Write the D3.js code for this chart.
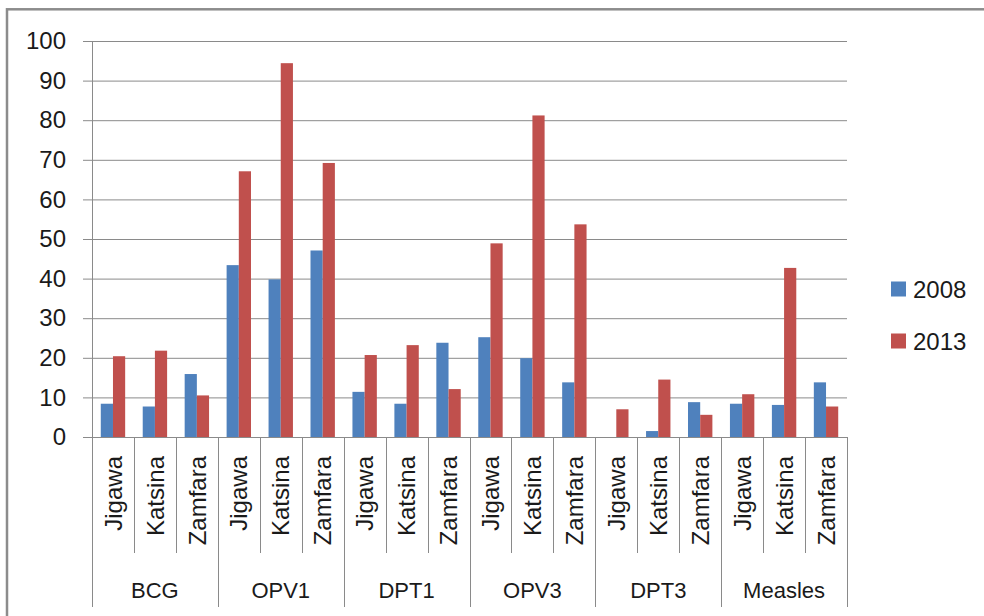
<!DOCTYPE html>
<html>
<head>
<meta charset="utf-8">
<script src="https://cdn.jsdelivr.net/npm/d3@7"></script>
<style>
  body { margin: 0; background: #fff; }
  text { font-family: "Liberation Sans", Arial, sans-serif; fill: #1a1a1a; }
</style>
</head>
<body>
<script>
// vaccine groups and districts (two-level category axis)
var vaccines = ['BCG', 'OPV1', 'DPT1', 'OPV3', 'DPT3', 'Measles'];
var districts = ['Jigawa', 'Katsina', 'Zamfara'];
var years = ['2008', '2013'];

// values, in order vaccine x district
var values2008 = [8.4, 7.7, 15.9,  43.4, 39.8, 47.1,  11.4, 8.4, 23.8,  25.2, 19.9, 13.8,  0, 1.5, 8.8,  8.4, 8.1, 13.8];
var values2013 = [20.4, 21.8, 10.5,  67.1, 94.4, 69.2,  20.7, 23.2, 12.1,  48.9, 81.2, 53.7,  7.0, 14.5, 5.6,  10.8, 42.7, 7.7];

var yTicks = [0, 10, 20, 30, 40, 50, 60, 70, 80, 90, 100];
var colors = { '2008': '#4f81bd', '2013': '#c0504d' };

var width = 984, height = 616;
// plot area edges (note: "top" is taken by window.top)
var plotLeft = 92, plotRight = 847, plotTop = 41, plotBottom = 437;

var svg = d3.select('body').append('svg')
  .attr('width', width)
  .attr('height', height);

// outer chart frame (only top and left edges are inside the picture)
svg.append('rect')
  .attr('x', 7).attr('y', 9.3)
  .attr('width', 1200).attr('height', 1200)
  .attr('fill', 'none')
  .attr('stroke', '#8c8c8c')
  .attr('stroke-width', 2.5);

// flatten into 18 categories
var cats = [];
vaccines.forEach(function(v, i) {
  districts.forEach(function(d, j) {
    var k = i * districts.length + j;
    cats.push({ key: v + '|' + d, vaccine: v, district: d, first: j === 0,
      '2008': values2008[k], '2013': values2013[k] });
  });
});

var x = d3.scaleBand()
  .domain(cats.map(function(d) { return d.key; }))
  .range([plotLeft, plotRight])
  .padding(0);

var xSub = d3.scaleBand()
  .domain(years)
  .range([0, x.bandwidth()])
  .paddingInner(0)
  .paddingOuter(0.72);

var y = d3.scaleLinear()
  .domain([0, 100])
  .range([plotBottom, plotTop]);

// gridlines + tick labels in one axis
var yAxis = d3.axisLeft(y)
  .tickValues(yTicks)
  .tickSize(plotRight - 83)
  .tickPadding(17);

var gy = svg.append('g')
  .attr('transform', 'translate(' + plotRight + ',0)')
  .call(yAxis);
gy.select('.domain').remove();
gy.selectAll('line').attr('stroke', '#8a8a8a');
gy.selectAll('text')
  .style('font-size', '24px')
  .attr('fill', '#1a1a1a');

// vertical axis line
svg.append('line')
  .attr('x1', plotLeft + 0.5).attr('x2', plotLeft + 0.5)
  .attr('y1', plotTop).attr('y2', plotBottom)
  .attr('stroke', '#8a8a8a');

// bars
var g = svg.append('g');
g.selectAll('g')
  .data(cats)
  .enter().append('g')
  .attr('transform', function(d) { return 'translate(' + x(d.key) + ',0)'; })
  .selectAll('rect')
  .data(function(d) { return years.map(function(yr) { return { year: yr, value: d[yr] }; }); })
  .enter().append('rect')
  .attr('x', function(d) { return xSub(d.year); })
  .attr('y', function(d) { return y(d.value); })
  .attr('width', xSub.bandwidth())
  .attr('height', function(d) { return y(0) - y(d.value); })
  .attr('fill', function(d) { return colors[d.year]; });

// category separators
var seps = cats.map(function(d) { return { pos: x(d.key), long: d.first }; });
seps.push({ pos: plotRight, long: true });
svg.selectAll('line.sep')
  .data(seps)
  .enter().append('line')
  .attr('class', 'sep')
  .attr('x1', function(d) { return Math.round(d.pos) + 0.5; })
  .attr('x2', function(d) { return Math.round(d.pos) + 0.5; })
  .attr('y1', plotBottom)
  .attr('y2', function(d) { return d.long ? 607 : 553; })
  .attr('stroke', '#8a8a8a');

// x axis line
svg.append('line')
  .attr('x1', plotLeft).attr('x2', plotRight)
  .attr('y1', plotBottom + 0.5).attr('y2', plotBottom + 0.5)
  .attr('stroke', '#8a8a8a');

// district labels (rotated)
svg.selectAll('text.district')
  .data(cats)
  .enter().append('text')
  .attr('class', 'district')
  .attr('transform', function(d) {
    return 'translate(' + (x(d.key) + x.bandwidth() / 2) + ',456) rotate(-90)';
  })
  .attr('text-anchor', 'end')
  .attr('dy', '0.36em')
  .style('font-size', '24px')
  .text(function(d) { return d.district; });

// vaccine group labels
svg.selectAll('text.vaccine')
  .data(vaccines)
  .enter().append('text')
  .attr('class', 'vaccine')
  .attr('x', function(v) {
    var a = x(v + '|' + districts[0]);
    var b = x(v + '|' + districts[districts.length - 1]) + x.bandwidth();
    return (a + b) / 2;
  })
  .attr('y', 598)
  .attr('text-anchor', 'middle')
  .style('font-size', '22px')
  .text(function(v) { return v; });

// legend
var legend = svg.selectAll('g.legend')
  .data(years)
  .enter().append('g')
  .attr('class', 'legend')
  .attr('transform', function(d, i) { return 'translate(891,' + (289 + i * 52) + ')'; });

legend.append('rect')
  .attr('x', 0).attr('y', -7.5)
  .attr('width', 15).attr('height', 15)
  .attr('fill', function(d) { return colors[d]; });

legend.append('text')
  .attr('x', 22)
  .attr('dy', '0.36em')
  .style('font-size', '24px')
  .text(function(d) { return d; });
</script>
</body>
</html>
